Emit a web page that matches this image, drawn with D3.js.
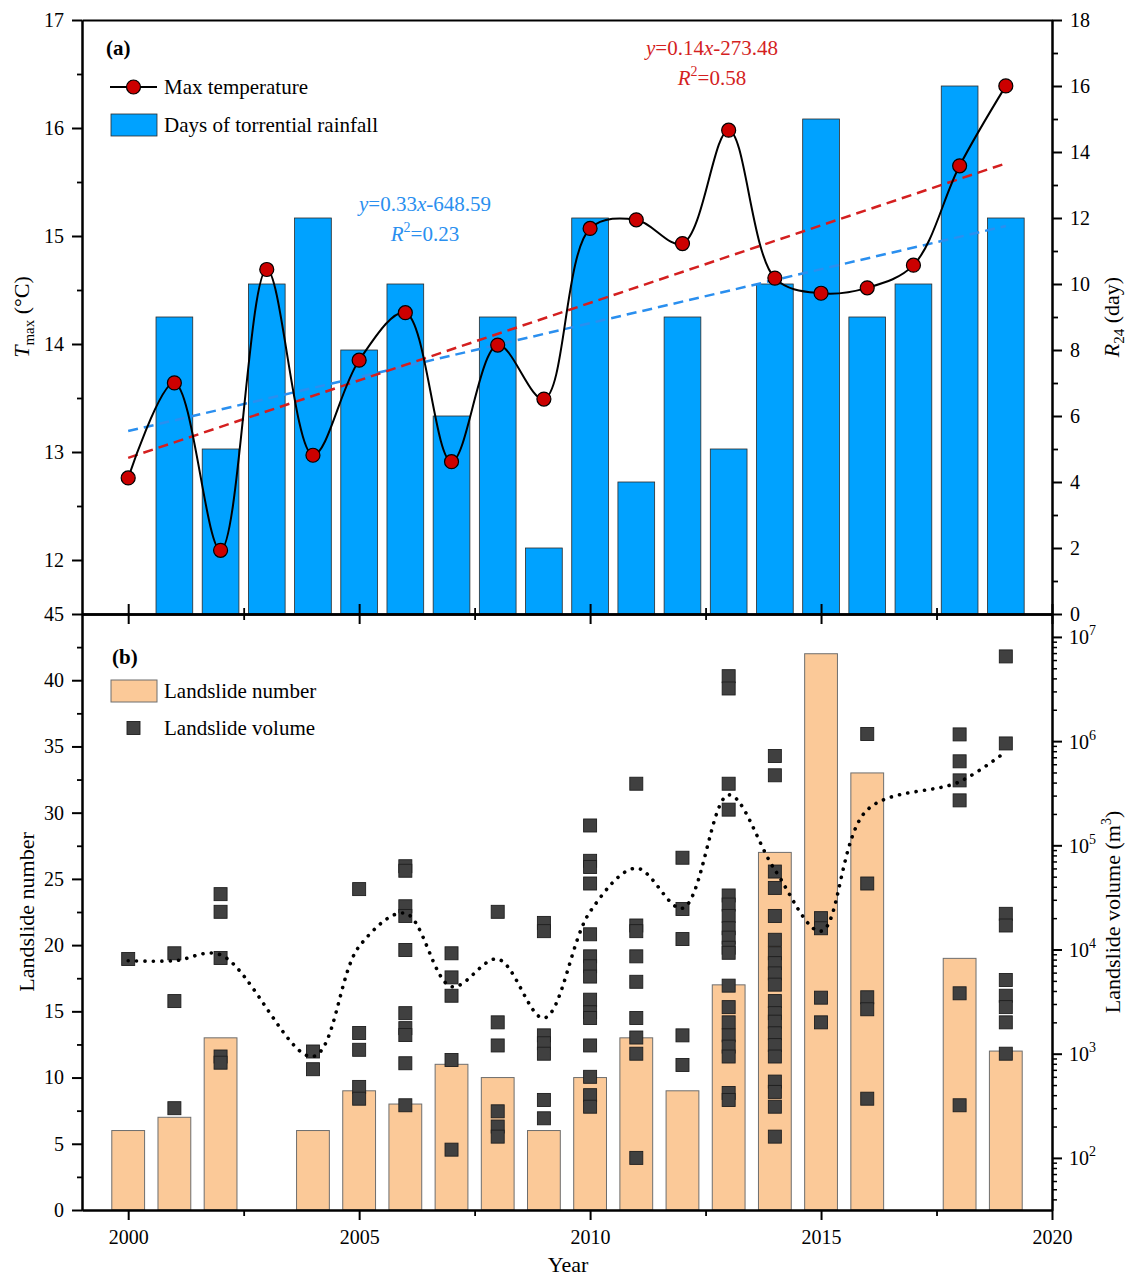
<!DOCTYPE html>
<html>
<head>
<meta charset="utf-8">
<script src="https://cdn.jsdelivr.net/npm/d3@7/dist/d3.min.js"></script>
<style>
  html, body { margin: 0; padding: 0; background: #fff; }
  svg { display: block; }
  text { font-family: "Liberation Serif", "Times New Roman", serif; fill: #000; }
</style>
</head>
<body>
<svg id="chart" width="1132" height="1278"></svg>
<script>
// ---- data ----
const years = [2000, 2001, 2002, 2003, 2004, 2005, 2006, 2007, 2008, 2009,
               2010, 2011, 2012, 2013, 2014, 2015, 2016, 2017, 2018, 2019];

// annual maximum temperature (°C)
const tmax = [12.76, 13.64, 12.09, 14.69, 12.97, 13.85, 14.29, 12.91, 13.99, 13.49,
              15.07, 15.15, 14.93, 15.98, 14.61, 14.47, 14.52, 14.73, 15.65, 16.39];

// days of torrential rainfall (R24)
const rainDays = [0, 9, 5, 10, 12, 8, 10, 6, 9, 2,
                  12, 4, 9, 5, 10, 15, 9, 10, 16, 12];

// landslide counts per year (null = no record)
const landslideCount = [6, 7, 13, null, 6, 9, 8, 11, 10, 6,
                        10, 13, 9, 17, 27, 42, 33, null, 19, 12];

// individual landslide volumes (m³) per year
const landslideVolume = [
  [8100],
  [9200, 3200, 300],
  [34000, 23000, 8300, 940, 820],
  [],
  [1050, 710],
  [38000, 1580, 1090, 480, 370],
  [63000, 57000, 26000, 21000, 9900, 2450, 1760, 1510, 810, 320],
  [9200, 5400, 3600, 870, 120],
  [23000, 2000, 1200, 280, 200, 160],
  [18000, 15000, 1500, 1260, 1000, 360, 240],
  [155000, 71000, 62000, 43000, 14000, 8600, 6900, 5500, 3300, 2500, 2200, 1200, 600, 400, 310],
  [390000, 17000, 15000, 8600, 4900, 2200, 1430, 1000, 100],
  [76000, 24500, 12600, 1500, 780],
  [4200000, 3200000, 390000, 220000, 33000, 27000, 21000, 16000, 13000, 10400, 9300, 4500, 2800, 2000, 1500, 1170, 940, 420, 360],
  [720000, 470000, 56000, 39000, 21000, 12400, 9200, 7400, 5900, 4600, 3200, 2450, 2030, 1570, 1210, 940, 540, 430, 310, 160],
  [20000, 16000, 3450, 2000],
  [1170000, 43000, 3480, 2670, 370],
  [],
  [1160000, 640000, 420000, 270000, 3800, 320],
  [6500000, 950000, 22000, 17000, 5100, 3600, 2800, 2000, 1000]
];

// smoothed volume trend (m³)
const volumeTrend = [7800, 7800, 8900, null, 940, 10700, 22300, 4400, 8100, 2200,
                     23100, 60300, 24900, 305000, 58100, 15000, 219000, null, 408000, 793000];

// tick values
const yearTicks = [2000, 2005, 2010, 2015, 2020];
const yearMinor = [2002.5, 2007.5, 2012.5, 2017.5];
const tempTicks = [12, 13, 14, 15, 16, 17];
const tempMinor = [12.5, 13.5, 14.5, 15.5, 16.5];
const rainTicks = [0, 2, 4, 6, 8, 10, 12, 14, 16, 18];
const rainMinor = [1, 3, 5, 7, 9, 11, 13, 15, 17];
const countTicks = [0, 5, 10, 15, 20, 25, 30, 35, 40, 45];
const countMinor = [2.5, 7.5, 12.5, 17.5, 22.5, 27.5, 32.5, 37.5, 42.5];
const volumeExponents = [2, 3, 4, 5, 6, 7];

// equation labels
const tempFit = { eq: "0.14x-273.48", r2: "0.58" };
const rainFit = { eq: "0.33x-648.59", r2: "0.23" };

// ---- layout ----
const L = 82, R = 1052, topY = 20, midY = 614, botY = 1210;
const svg = d3.select("#chart");

const x = d3.scaleLinear().domain([1999, 2020]).range([L, R]);
const yT = d3.scaleLinear().domain([11.5, 17]).range([midY, topY]);
const yR = d3.scaleLinear().domain([0, 18]).range([midY, topY]);
const yN = d3.scaleLinear().domain([0, 45]).range([botY, midY]);
const yV = d3.scaleLog().domain([Math.pow(10, 1.5), Math.pow(10, 7.22)]).range([botY, midY]);

const BLUE = "#00A2FF", PEACH = "#FBC998", RED = "#D41F1F", LINEBLUE = "#2A8FEF";

// least-squares fit
function linfit(xs, ys) {
  const n = xs.length, mx = d3.mean(xs), my = d3.mean(ys);
  let sxy = 0, sxx = 0;
  for (let i = 0; i < n; i++) { sxy += (xs[i] - mx) * (ys[i] - my); sxx += (xs[i] - mx) ** 2; }
  const b = sxy / sxx;
  return t => my + b * (t - mx);
}

// ---- panel (a) ----
const gA = svg.append("g");
const barWA = (x(2001) - x(2000)) * 0.795;
gA.selectAll("rect.rain").data(years.map((y, i) => ({ y, v: rainDays[i] })).filter(d => d.v > 0))
  .join("rect").attr("class", "rain")
  .attr("x", d => x(d.y) - barWA / 2).attr("width", barWA)
  .attr("y", d => yR(d.v)).attr("height", d => yR(0) - yR(d.v))
  .attr("fill", BLUE).attr("stroke", "#2b2b2b").attr("stroke-width", 0.8);

const rainLine = linfit(years, rainDays);
gA.append("line")
  .attr("x1", x(years[0])).attr("x2", x(years[years.length - 1]))
  .attr("y1", yR(rainLine(years[0]))).attr("y2", yR(rainLine(years[years.length - 1])))
  .attr("stroke", LINEBLUE).attr("stroke-width", 2.5).attr("stroke-dasharray", "10,6");

const tempLine = linfit(years, tmax);
gA.append("line")
  .attr("x1", x(years[0])).attr("x2", x(years[years.length - 1]))
  .attr("y1", yT(tempLine(years[0]))).attr("y2", yT(tempLine(years[years.length - 1])))
  .attr("stroke", RED).attr("stroke-width", 2.5).attr("stroke-dasharray", "10,6");

gA.append("path")
  .datum(years.map((y, i) => [x(y), yT(tmax[i])]))
  .attr("d", d3.line().curve(d3.curveCatmullRom.alpha(0.5)))
  .attr("fill", "none").attr("stroke", "#000").attr("stroke-width", 2);

gA.selectAll("circle.t").data(years.map((y, i) => ({ y, v: tmax[i] })))
  .join("circle").attr("class", "t")
  .attr("cx", d => x(d.y)).attr("cy", d => yT(d.v)).attr("r", 7)
  .attr("fill", "#CC0000").attr("stroke", "#000").attr("stroke-width", 1.2);

// ---- panel (b) ----
const gB = svg.append("g");
const barWB = (x(2001) - x(2000)) * 0.71;
gB.selectAll("rect.count").data(years.map((y, i) => ({ y, v: landslideCount[i] })).filter(d => d.v != null))
  .join("rect").attr("class", "count")
  .attr("x", d => x(d.y) - barWB / 2).attr("width", barWB)
  .attr("y", d => yN(d.v)).attr("height", d => yN(0) - yN(d.v))
  .attr("fill", PEACH).attr("stroke", "#6e6e6e").attr("stroke-width", 1);

const pts = [];
years.forEach((y, i) => landslideVolume[i].forEach(v => pts.push({ y, v })));
const S = 13;
gB.selectAll("rect.vol").data(pts).join("rect").attr("class", "vol")
  .attr("x", d => x(d.y) - S / 2).attr("y", d => yV(d.v) - S / 2)
  .attr("width", S).attr("height", S)
  .attr("fill", "#404040").attr("stroke", "#1e1e1e").attr("stroke-width", 0.9);

gB.append("path")
  .datum(years.map((y, i) => ({ y, v: volumeTrend[i] })).filter(d => d.v != null).map(d => [x(d.y), yV(d.v)]))
  .attr("d", d3.line().curve(d3.curveCatmullRom.alpha(0.5)))
  .attr("fill", "none").attr("stroke", "#000").attr("stroke-width", 3.6)
  .attr("stroke-linecap", "round").attr("stroke-dasharray", "0.1,8.3");

// ---- axes ----
function styleAxis(g, width) {
  g.selectAll(".domain").attr("stroke", "#000").attr("stroke-width", 2);
  g.selectAll(".tick line").attr("stroke", "#000").attr("stroke-width", width);
  g.selectAll(".tick text").attr("font-size", 20).attr("font-family", "Liberation Serif, serif").attr("fill", "#000");
}
function addAxis(axis, tx, ty, tw) {
  const g = svg.append("g").attr("transform", `translate(${tx},${ty})`).call(axis);
  styleAxis(g, tw);
  return g;
}
const intFmt = d3.format("d");
// left, panel (a)
addAxis(d3.axisLeft(yT).tickValues(tempTicks).tickSize(10).tickSizeOuter(0).tickPadding(8).tickFormat(intFmt), L, 0, 2);
addAxis(d3.axisLeft(yT).tickValues(tempMinor).tickSize(5).tickSizeOuter(0).tickFormat(""), L, 0, 1.8);
// left, panel (b)
addAxis(d3.axisLeft(yN).tickValues(countTicks).tickSize(10).tickSizeOuter(0).tickPadding(8).tickFormat(intFmt), L, 0, 2);
addAxis(d3.axisLeft(yN).tickValues(countMinor).tickSize(5).tickSizeOuter(0).tickFormat(""), L, 0, 1.8);
// right, panel (a)
addAxis(d3.axisRight(yR).tickValues(rainTicks).tickSize(10).tickSizeOuter(0).tickPadding(8).tickFormat(intFmt), R, 0, 2);
addAxis(d3.axisRight(yR).tickValues(rainMinor).tickSize(6).tickSizeOuter(0).tickFormat(""), R, 0, 1.8);
// right, panel (b) — logarithmic
const volMajor = volumeExponents.map(e => Math.pow(10, e));
const volMinor = [];
[1, 2, 3, 4, 5, 6].forEach(e => { for (let k = 2; k <= 9; k++) { const v = k * Math.pow(10, e); if (v >= yV.domain()[0] && v <= yV.domain()[1]) volMinor.push(v); } });
const gVol = addAxis(d3.axisRight(yV).tickValues(volMajor).tickSize(10).tickSizeOuter(0).tickPadding(8).tickFormat(""), R, 0, 2);
addAxis(d3.axisRight(yV).tickValues(volMinor).tickSize(5).tickSizeOuter(0).tickFormat(""), R, 0, 1.5);
gVol.selectAll(".tick").each(function (d) {
  const t = d3.select(this).append("text").attr("x", 17).attr("y", 7).attr("font-size", 20).attr("text-anchor", "start");
  t.append("tspan").text("10");
  t.append("tspan").attr("dy", -9).attr("font-size", 14).text(String(Math.round(Math.log10(d))));
});
// bottom x-axis
addAxis(d3.axisBottom(x).tickValues(yearTicks).tickSize(10).tickSizeOuter(0).tickPadding(10).tickFormat(intFmt), 0, botY, 2);
addAxis(d3.axisBottom(x).tickValues(yearMinor).tickSize(6).tickSizeOuter(0).tickFormat(""), 0, botY, 1.8);
// shared middle axis with crossing ticks
addAxis(d3.axisBottom(x).tickValues(yearTicks).tickSize(10).tickSizeOuter(0).tickFormat(""), 0, midY, 2);
addAxis(d3.axisTop(x).tickValues(yearTicks).tickSize(10).tickSizeOuter(0).tickFormat(""), 0, midY, 2);
addAxis(d3.axisBottom(x).tickValues(yearMinor).tickSize(6).tickSizeOuter(0).tickFormat(""), 0, midY, 1.8);
addAxis(d3.axisTop(x).tickValues(yearMinor).tickSize(6).tickSizeOuter(0).tickFormat(""), 0, midY, 1.8);
// top frame
addAxis(d3.axisTop(x).tickValues([]).tickSizeOuter(0), 0, topY, 2);

// ---- axis titles ----
const tl = svg.append("text").attr("transform", `translate(29,${(topY + midY) / 2}) rotate(-90)`)
  .attr("text-anchor", "middle").attr("font-size", 22);
tl.append("tspan").attr("font-style", "italic").text("T");
tl.append("tspan").attr("font-size", 15).attr("dy", 5).text("max");
tl.append("tspan").attr("dy", -5).text(" (°C)");

const tr = svg.append("text").attr("transform", `translate(1119,${(topY + midY) / 2}) rotate(-90)`)
  .attr("text-anchor", "middle").attr("font-size", 22);
tr.append("tspan").attr("font-style", "italic").text("R");
tr.append("tspan").attr("font-size", 15).attr("dy", 5).text("24");
tr.append("tspan").attr("dy", -5).text(" (day)");

svg.append("text").attr("transform", `translate(34,${(midY + botY) / 2}) rotate(-90)`)
  .attr("text-anchor", "middle").attr("font-size", 22).text("Landslide number");

const vr = svg.append("text").attr("transform", `translate(1120,${(midY + botY) / 2}) rotate(-90)`)
  .attr("text-anchor", "middle").attr("font-size", 22);
vr.append("tspan").text("Landslide volume (m");
vr.append("tspan").attr("font-size", 14).attr("dy", -9).text("3");
vr.append("tspan").attr("dy", 9).text(")");

svg.append("text").attr("x", (x(2000) + x(2020)) / 2 - 22).attr("y", 1272)
  .attr("text-anchor", "middle").attr("font-size", 22).text("Year");

// ---- legends & labels ----
svg.append("text").attr("x", 106).attr("y", 55).attr("font-size", 21).attr("font-weight", "bold").text("(a)");
svg.append("line").attr("x1", 110).attr("x2", 157).attr("y1", 87).attr("y2", 87).attr("stroke", "#000").attr("stroke-width", 2);
svg.append("circle").attr("cx", 133.5).attr("cy", 87).attr("r", 7).attr("fill", "#CC0000").attr("stroke", "#000").attr("stroke-width", 1.2);
svg.append("text").attr("x", 164).attr("y", 94).attr("font-size", 21).text("Max temperature");
svg.append("rect").attr("x", 111).attr("y", 114).attr("width", 46).attr("height", 22).attr("fill", BLUE).attr("stroke", "#2b2b2b").attr("stroke-width", 0.8);
svg.append("text").attr("x", 164).attr("y", 132).attr("font-size", 21).text("Days of torrential rainfall");

svg.append("text").attr("x", 112).attr("y", 664).attr("font-size", 21).attr("font-weight", "bold").text("(b)");
svg.append("rect").attr("x", 111).attr("y", 680).attr("width", 46).attr("height", 22).attr("fill", PEACH).attr("stroke", "#6e6e6e").attr("stroke-width", 1);
svg.append("text").attr("x", 164).attr("y", 698).attr("font-size", 21).text("Landslide number");
svg.append("rect").attr("x", 133.5 - S / 2).attr("y", 728 - S / 2).attr("width", S).attr("height", S).attr("fill", "#404040").attr("stroke", "#1e1e1e").attr("stroke-width", 0.9);
svg.append("text").attr("x", 164).attr("y", 735).attr("font-size", 21).text("Landslide volume");

// regression equations
function equation(cx, y1, y2, fit, color) {
  const e = svg.append("text").attr("x", cx).attr("y", y1).attr("text-anchor", "middle").attr("font-size", 21).style("fill", color);
  e.append("tspan").attr("font-style", "italic").text("y");
  e.append("tspan").text("=" + fit.eq.split("x")[0]);
  e.append("tspan").attr("font-style", "italic").text("x");
  e.append("tspan").text(fit.eq.split("x")[1]);
  const r = svg.append("text").attr("x", cx).attr("y", y2).attr("text-anchor", "middle").attr("font-size", 21).style("fill", color);
  r.append("tspan").attr("font-style", "italic").text("R");
  r.append("tspan").attr("font-size", 14).attr("dy", -9).text("2");
  r.append("tspan").attr("dy", 9).text("=" + fit.r2);
}
equation(712, 55, 85, tempFit, RED);
equation(425, 211, 241, rainFit, LINEBLUE);
</script>
</body>
</html>
